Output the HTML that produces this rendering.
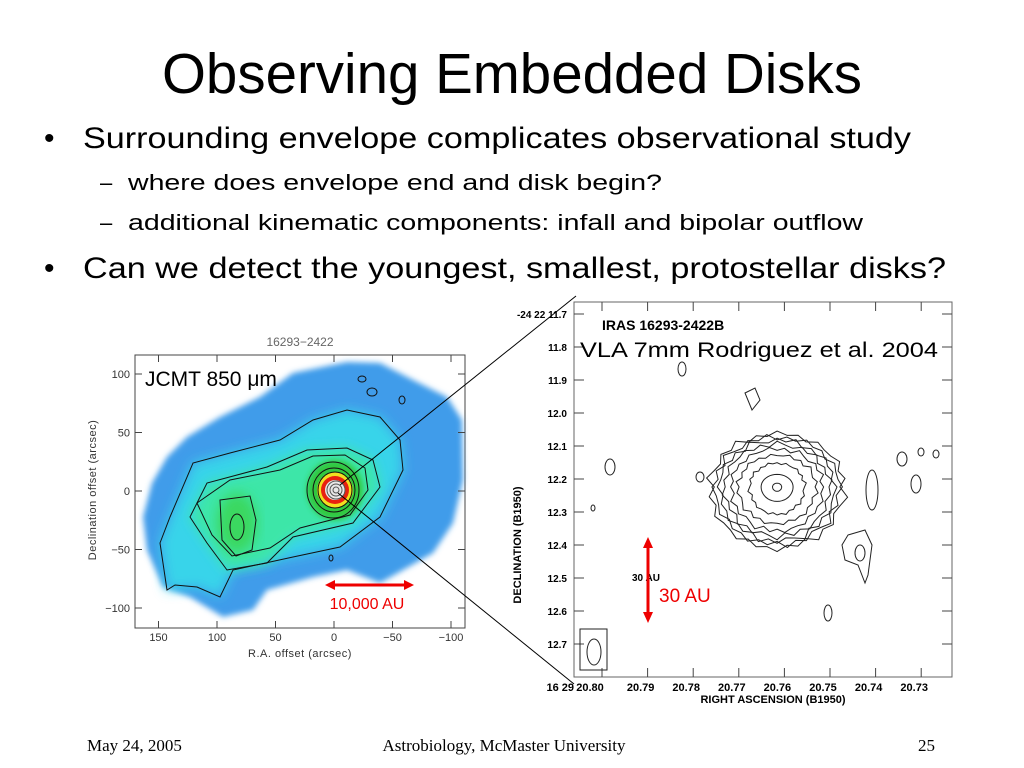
<!DOCTYPE html>
<html><head><meta charset="utf-8"><style>
html,body{margin:0;padding:0;background:#fff;}
svg{display:block;}
text{font-family:"Liberation Sans",Arial,sans-serif;}
</style></head><body>
<svg id="slide" width="1024" height="768" viewBox="0 0 1024 768" xmlns="http://www.w3.org/2000/svg">
<defs>
<filter id="blur6" x="-20%" y="-20%" width="140%" height="140%"><feGaussianBlur stdDeviation="6"/></filter>
<filter id="blur3" x="-20%" y="-20%" width="140%" height="140%"><feGaussianBlur stdDeviation="3"/></filter>
</defs>
<text x="162" y="93" font-size="57" textLength="700" lengthAdjust="spacingAndGlyphs">Observing Embedded Disks</text>
<g>
<text x="44" y="148" font-size="30">•</text>
<text x="83" y="148" font-size="30" textLength="828" lengthAdjust="spacingAndGlyphs">Surrounding envelope complicates observational study</text>
<text x="100" y="190" font-size="22">–</text>
<text x="128" y="190" font-size="22" textLength="534" lengthAdjust="spacingAndGlyphs">where does envelope end and disk begin?</text>
<text x="100" y="230" font-size="22">–</text>
<text x="128" y="230" font-size="22" textLength="735" lengthAdjust="spacingAndGlyphs">additional kinematic components: infall and bipolar outflow</text>
<text x="44" y="278" font-size="30">•</text>
<text x="83" y="278" font-size="30" textLength="863" lengthAdjust="spacingAndGlyphs">Can we detect the youngest, smallest, protostellar disks?</text>
</g>

<!-- LEFT: JCMT map -->
<g id="left-plot">
<rect x="135" y="355" width="330" height="273" fill="#fff" stroke="#444" stroke-width="1"/>
<g>
<path filter="url(#blur3)" fill="#3f9cea" d="M143,517 L152,483 L167,457 L187,437 L220,417 L260,397 L293,373 L347,362 L380,363 L413,380 L447,397 L462,420 L463,480 L453,523 L433,553 L403,570 L380,583 L347,570 L313,577 L267,590 L253,610 L223,617 L190,597 L163,587 L147,550 Z"/>
<path filter="url(#blur6)" fill="#38d4ea" d="M167,590 L160,543 L170,517 L193,463 L230,453 L280,440 L313,420 L347,410 L380,417 L400,440 L403,470 L380,517 L340,547 L293,557 L233,570 L220,597 L197,587 Z"/>
<path filter="url(#blur6)" fill="#3ee6a8" d="M190,517 L207,483 L267,467 L307,450 L347,448 L373,460 L380,487 L353,523 L293,537 L267,563 L227,570 L207,543 Z"/>
<ellipse filter="url(#blur6)" cx="237" cy="523" rx="20" ry="30" fill="#3ad860"/>
<ellipse filter="url(#blur3)" cx="335" cy="490" rx="28" ry="30" fill="#30c840"/>
<circle cx="335" cy="490" r="18" fill="#f0e020"/>
<circle cx="335" cy="490" r="14" fill="#e82010"/>
<circle cx="335" cy="490" r="10" fill="#e8e8e8"/>
</g>
<g fill="none" stroke="#111" stroke-width="1">
<path d="M167,590 L160,543 L170,517 L193,463 L230,453 L280,440 L313,420 L347,410 L380,417 L400,440 L403,470 L380,517 L340,547 L293,557 L233,570 L220,597 L197,587 L175,585 Z"/>
<path d="M190,517 L207,483 L267,467 L307,450 L347,448 L373,460 L380,487 L353,523 L293,537 L267,563 L227,570 L207,543 Z"/>
<path d="M197,503 L230,480 L280,470 L313,456 L345,455 L365,468 L368,490 L350,515 L300,528 L270,548 L232,556 L212,535 Z"/>
<path d="M220,500 L250,496 L256,520 L252,550 L236,556 L222,540 Z"/>
<ellipse cx="237" cy="527" rx="7" ry="13"/>
<ellipse cx="333" cy="490" rx="26" ry="28"/>
<ellipse cx="334" cy="490" rx="21" ry="22"/>
<ellipse cx="335" cy="490" rx="17" ry="18"/>
<circle cx="336" cy="490" r="9" stroke="#555"/>
<circle cx="336" cy="490" r="6" stroke="#555"/>
<circle cx="336" cy="490" r="3" stroke="#555"/>
<ellipse cx="362" cy="379" rx="4" ry="3"/>
<ellipse cx="372" cy="392" rx="5" ry="4"/>
<ellipse cx="402" cy="400" rx="3" ry="4"/>
<ellipse cx="331" cy="558" rx="2" ry="3"/>
</g>
<g id="left-x-axis"></g>
<g id="left-y-axis"></g>
<text x="300" y="346" font-size="12" fill="#666" text-anchor="middle">16293−2422</text>
<text x="300" y="657" font-size="11" fill="#333" text-anchor="middle" letter-spacing="0.5">R.A.  offset  (arcsec)</text>
<text transform="translate(96,490) rotate(-90)" font-size="11" fill="#333" text-anchor="middle" letter-spacing="0.5">Declination  offset  (arcsec)</text>
<text x="145" y="386" font-size="21">JCMT 850 μm</text>
<g stroke="#e00" stroke-width="3" fill="#e00">
<line x1="332" y1="585" x2="408" y2="585"/>
<path d="M325,585 L335,580 L335,590 Z" stroke="none"/>
<path d="M414,585 L404,580 L404,590 Z" stroke="none"/>
</g>
<text x="367" y="609" font-size="16" fill="#e00" text-anchor="middle">10,000 AU</text>
</g>

<line x1="340" y1="485" x2="576" y2="296" stroke="#000" stroke-width="1"/>
<line x1="338" y1="493" x2="574" y2="684" stroke="#000" stroke-width="1"/>

<!-- RIGHT: VLA map -->
<g id="right-plot">
<rect x="574" y="302" width="378" height="375" fill="#fff" stroke="#666" stroke-width="1"/>
<g id="vla-contours" fill="none" stroke="#222" stroke-width="1"></g>
<g fill="none" stroke="#222" stroke-width="1">
<ellipse cx="682" cy="369" rx="4" ry="7"/>
<ellipse cx="610" cy="467" rx="5" ry="8"/>
<ellipse cx="700" cy="477" rx="4" ry="5"/>
<ellipse cx="593" cy="508" rx="2" ry="3"/>
<ellipse cx="872" cy="490" rx="6" ry="20"/>
<ellipse cx="902" cy="459" rx="5" ry="7"/>
<ellipse cx="921" cy="452" rx="3" ry="4"/>
<ellipse cx="936" cy="454" rx="3" ry="4"/>
<ellipse cx="916" cy="484" rx="5" ry="9"/>
<path d="M848,535 L865,530 L872,545 L868,575 L865,583 L858,565 L845,560 L842,545 Z"/>
<ellipse cx="860" cy="553" rx="5" ry="8"/>
<ellipse cx="828" cy="613" rx="4" ry="8"/>
<path d="M745,393 L755,388 L760,400 L752,410 Z"/>
</g>
<g id="right-x-axis"></g>
<g id="right-y-axis"></g>
<text x="602" y="330" font-size="14" font-weight="bold">IRAS 16293-2422B</text>
<text x="580" y="357" font-size="21" textLength="358" lengthAdjust="spacingAndGlyphs">VLA 7mm Rodriguez et al. 2004</text>
<text x="773" y="703" font-size="11" font-weight="bold" text-anchor="middle">RIGHT ASCENSION (B1950)</text>
<text transform="translate(521,545) rotate(-90)" font-size="11" font-weight="bold" text-anchor="middle">DECLINATION (B1950)</text>
<rect x="580" y="629" width="27" height="41" fill="none" stroke="#222"/>
<ellipse cx="594" cy="652" rx="7" ry="13" fill="none" stroke="#222"/>
<text x="632" y="581" font-size="10" font-weight="bold">30 AU</text>
<g fill="#e00" stroke="#e00" stroke-width="3">
<line x1="648" y1="545" x2="648" y2="616"/>
<path d="M648,537 L643,548 L653,548 Z" stroke="none"/>
<path d="M648,623 L643,612 L653,612 Z" stroke="none"/>
</g>
<text x="659" y="602" font-size="19" fill="#e00">30 AU</text>
</g>

<g>
<text x="87" y="751" font-size="17" style="font-family:'Liberation Serif',serif">May 24, 2005</text>
<text x="504" y="751" font-size="17" text-anchor="middle" style="font-family:'Liberation Serif',serif">Astrobiology, McMaster University</text>
<text x="935" y="751" font-size="17" text-anchor="end" style="font-family:'Liberation Serif',serif">25</text>
</g>
</svg>
<script>
const NS="http://www.w3.org/2000/svg";
const leftXTicks=[150,100,50,0,-50,-100];
const leftYTicks=[100,50,0,-50,-100];
const leftXLabels=["150","100","50","0","−50","−100"];
const leftYLabels=["100","50","0","−50","−100"];
const rightXTicks=[20.80,20.79,20.78,20.77,20.76,20.75,20.74,20.73];
const rightXLabels=["20.80","20.79","20.78","20.77","20.76","20.75","20.74","20.73"];
const rightYTicks=[11.7,11.8,11.9,12.0,12.1,12.2,12.3,12.4,12.5,12.6,12.7];
const rightYLabels=["-24 22 11.7","11.8","11.9","12.0","12.1","12.2","12.3","12.4","12.5","12.6","12.7"];
const contourRadiiX=[0.0010,0.0035,0.006,0.0085,0.0100,0.0115,0.0125,0.0135,0.0145];
const contourRadiiY=[0.012,0.040,0.075,0.100,0.120,0.135,0.148,0.158,0.168];
const srcRA=20.7616, srcDec=12.224;

const lx=v=>334-v*1.17, ly=v=>491-v*1.17;
const rx=v=>602+(20.80-v)*4560, ry=v=>314+(v-11.7)*330;

function mk(tag,attrs,parent,txt){const e=document.createElementNS(NS,tag);for(const k in attrs)e.setAttribute(k,attrs[k]);if(txt!==undefined)e.textContent=txt;parent.appendChild(e);return e;}

const lxa=document.getElementById('left-x-axis'), lya=document.getElementById('left-y-axis');
leftXTicks.forEach((v,i)=>{
  const t=mk('line',{x1:lx(v),x2:lx(v),y1:628,y2:621,stroke:'#444'},lxa);
  
  
  const t2=mk('line',{x1:lx(v),x2:lx(v),y1:355,y2:362,stroke:'#444'},lxa);
  
  
  const l=mk('text',{x:lx(v),y:641,'font-size':11,fill:'#333','text-anchor':'middle'},lxa,leftXLabels[i]);
  
  
});
leftYTicks.forEach((v,i)=>{
  const t=mk('line',{x1:135,x2:142,y1:ly(v),y2:ly(v),stroke:'#444'},lya);
  
  
  const t2=mk('line',{x1:465,x2:458,y1:ly(v),y2:ly(v),stroke:'#444'},lya);
  
  
  const l=mk('text',{x:130,y:ly(v)+4,'font-size':11,fill:'#333','text-anchor':'end'},lya,leftYLabels[i]);
  
  
});

const rxa=document.getElementById('right-x-axis'), rya=document.getElementById('right-y-axis');
rightXTicks.forEach((v,i)=>{
  const t=mk('line',{x1:rx(v),x2:rx(v),y1:677,y2:668,stroke:'#444'},rxa);
  
  
  const t2=mk('line',{x1:rx(v),x2:rx(v),y1:302,y2:311,stroke:'#444'},rxa);
  
  
  const l=mk('text',{x:i===0?rx(v)-12:rx(v)-7,y:691,'font-size':11,'font-weight':'bold','text-anchor':'middle'},rxa,rightXLabels[i]);
  
  
  if(i===0){const p=mk('text',{x:rx(v)-28,y:691,'font-size':11,'font-weight':'bold','text-anchor':'end'},rxa,'16 29');
    
    }
});
rightYTicks.forEach((v,i)=>{
  const t=mk('line',{x1:574,x2:584,y1:ry(v),y2:ry(v),stroke:'#444'},rya);
  
  
  const t2=mk('line',{x1:952,x2:942,y1:ry(v),y2:ry(v),stroke:'#444'},rya);
  
  
  const l=mk('text',{x:567,y:ry(v)+4,'font-size':10,'font-weight':'bold','text-anchor':'end'},rya,rightYLabels[i]);
  
  
});

const wobble=[1,1.06,0.97,1.04,0.95,1.08,1,0.96,1.05,0.98,1.07,0.95,1.02,0.97,1.06,0.99,1.03,0.96,1.05,1];
const vc=document.getElementById('vla-contours');
contourRadiiX.forEach((ax,k)=>{
  const ay=contourRadiiY[k];
  let d='';
  for(let j=0;j<=40;j++){
    const a=j/40*2*Math.PI;
    const w=k<2?1:wobble[(j+k*3)%20];
    const px=rx(srcRA)+Math.cos(a)*ax*4560*w;
    const py=ry(srcDec)+Math.sin(a)*ay*330*w*(Math.sin(a)>0?1.1:0.95);
    d+=(j?'L':'M')+px.toFixed(1)+','+py.toFixed(1);
  }
  const p=mk('path',{d:d+'Z'},vc);
  
  
});
</script>
</body></html>
